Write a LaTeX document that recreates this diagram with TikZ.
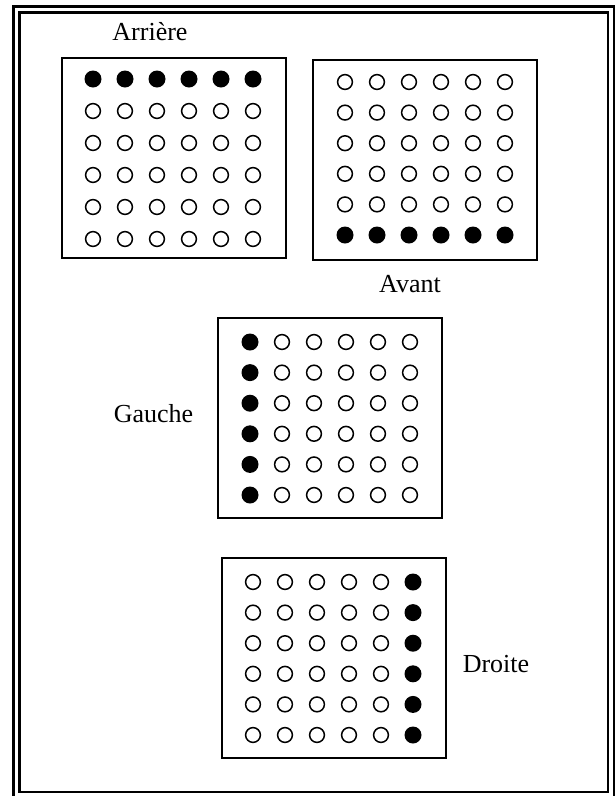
\documentclass[tikz,border=0pt]{standalone}
\usepackage{fontspec}
\setmainfont{Liberation Serif}
\begin{document}
\begin{tikzpicture}[x=1pt, y=-1pt,
    boite/.style={draw, line width=1.4pt},
    trou/.style={draw, line width=1.5pt},
    plein/.style={fill=black},
    etiquette/.style={font=\fontsize{26}{30}\selectfont, inner sep=0pt, anchor=base}]
    \useasboundingbox (0,0) rectangle (616,796);

    % 1. Cadre double
    \draw[line width=2.6pt] (13.5,6.5) rectangle (614,800);
    \draw[line width=2.6pt] (19.5,12.5) rectangle (608,792);

    % 2. Les quatre cadres
    \draw[boite] (62,58) rectangle (286,258);
    \draw[boite] (313,60) rectangle (537,260);
    \draw[boite] (218,318) rectangle (442,518);
    \draw[boite] (222,558) rectangle (446,758);

    % 3. Arriere : premiere ligne pleine
    \foreach \c in {0,...,5} {
        \fill[plein] ({93+32*\c},79) circle[radius=8.5pt];
        \foreach \r in {1,...,5}
            \draw[trou] ({93+32*\c},{79+32*\r}) circle[radius=7.4pt];
    }

    % 4. Avant : derniere ligne pleine
    \foreach \c in {0,...,5} {
        \fill[plein] ({345+32*\c},{82+30.6*5}) circle[radius=8.5pt];
        \foreach \r in {0,...,4}
            \draw[trou] ({345+32*\c},{82+30.6*\r}) circle[radius=7.4pt];
    }

    % 5. Gauche : premiere colonne pleine
    \foreach \r in {0,...,5} {
        \fill[plein] (250,{342+30.6*\r}) circle[radius=8.5pt];
        \foreach \c in {1,...,5}
            \draw[trou] ({250+32*\c},{342+30.6*\r}) circle[radius=7.4pt];
    }

    % 6. Droite : derniere colonne pleine
    \foreach \r in {0,...,5} {
        \fill[plein] ({253+32*5},{582+30.6*\r}) circle[radius=8.5pt];
        \foreach \c in {0,...,4}
            \draw[trou] ({253+32*\c},{582+30.6*\r}) circle[radius=7.4pt];
    }

    % 7. Etiquettes
    \node[etiquette] (arriere) at (150,40) {Arrière};
    \node[etiquette] (avant) at (410,292) {Avant};
    \node[etiquette] (gauche) at (153.5,422) {Gauche};
    \node[etiquette] (droite) at (496,672) {Droite};

\end{tikzpicture}
\end{document}
